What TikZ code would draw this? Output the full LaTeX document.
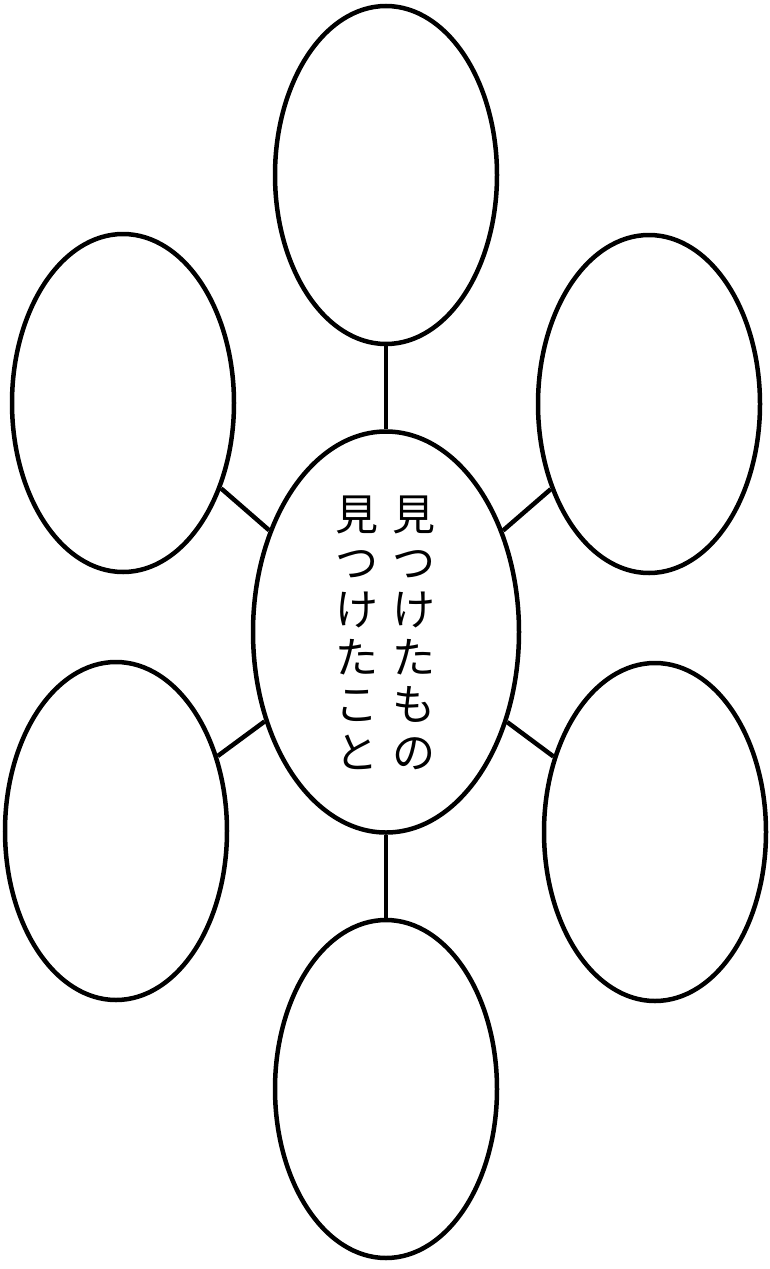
\documentclass[tikz,border=0pt]{standalone}
\usepackage{fontspec}
\newfontfamily\cjk{Noto Sans CJK JP}
\usetikzlibrary{shapes.geometric}
\begin{document}
\begin{tikzpicture}[x=1pt,y=-1pt,
  bubble/.style={draw=black,ellipse,line width=4.5pt,inner sep=0pt,minimum width=222pt,minimum height=338pt,fill=white},
  hub/.style={draw=black,ellipse,line width=4.5pt,inner sep=0pt,minimum width=266pt,minimum height=401pt,fill=white},
  link/.style={line width=4.5pt},
  vtext/.style={font=\cjk\fontsize{43}{47.5}\selectfont,align=center,inner sep=0pt,anchor=north}]
\useasboundingbox (0,0) rectangle (770,1269);
\node[hub] (c) at (386,632) {};
\node[bubble] (t) at (386,175) {};
\node[bubble] (ul) at (123,403) {};
\node[bubble] (ur) at (649,404) {};
\node[bubble] (ll) at (116,831) {};
\node[bubble] (lr) at (655,832) {};
\node[bubble] (b) at (386,1089) {};
\draw[link] (c) -- (t);
\draw[link] (c) -- (b);
\draw[link] (c) -- (ul);
\draw[link] (c) -- (ur);
\draw[link] (c) -- (ll);
\draw[link] (c) -- (lr);
\node[vtext] (colr) at (414,496) {見\\つ\\け\\た\\も\\の};
\node[vtext] (coll) at (357,496) {見\\つ\\け\\た\\こ\\と};
\end{tikzpicture}
\end{document}
